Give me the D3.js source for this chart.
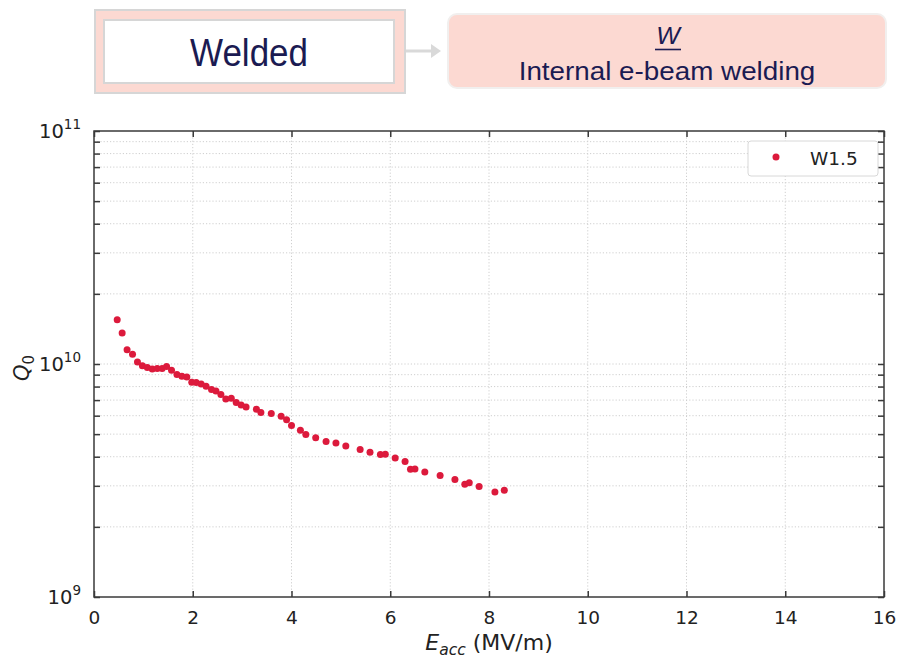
<!DOCTYPE html>
<html>
<head>
<meta charset="utf-8">
<script src="https://cdn.jsdelivr.net/npm/d3@7/dist/d3.min.js"></script>
<style>
  html, body { margin: 0; padding: 0; background: #ffffff; }
  svg { display: block; }
</style>
</head>
<body>
<svg id="chart" width="903" height="659"></svg>
<script>
// Measured Q0 vs accelerating gradient, cavity W1.5
const seriesName = "W1.5";
const eacc = [0.47, 0.57, 0.67, 0.78, 0.88, 0.98, 1.08, 1.18, 1.28, 1.38, 1.47, 1.57, 1.68, 1.78, 1.88,
  1.98, 2.07, 2.17, 2.27, 2.38, 2.47, 2.57, 2.67, 2.78, 2.88, 2.98, 3.08, 3.29, 3.38, 3.59,
  3.79, 3.90, 4.00, 4.18, 4.29, 4.49, 4.70, 4.90, 5.10, 5.39, 5.59, 5.80, 5.90, 6.10, 6.30,
  6.41, 6.50, 6.70, 7.01, 7.31, 7.51, 7.60, 7.80, 8.12, 8.31];
const q0 = [1.55e10, 1.36e10, 1.15e10, 1.10e10, 1.02e10, 0.984e10, 0.965e10, 0.952e10, 0.956e10, 0.956e10,
  0.975e10, 0.940e10, 0.901e10, 0.885e10, 0.880e10, 0.835e10, 0.832e10, 0.821e10, 0.802e10, 0.777e10,
  0.766e10, 0.739e10, 0.708e10, 0.713e10, 0.683e10, 0.667e10, 0.654e10, 0.639e10, 0.619e10, 0.613e10,
  0.597e10, 0.577e10, 0.545e10, 0.519e10, 0.498e10, 0.483e10, 0.465e10, 0.458e10, 0.445e10, 0.430e10,
  0.418e10, 0.409e10, 0.410e10, 0.395e10, 0.382e10, 0.353e10, 0.354e10, 0.344e10, 0.332e10, 0.319e10,
  0.305e10, 0.309e10, 0.298e10, 0.282e10, 0.287e10];
const xTicks = [0, 2, 4, 6, 8, 10, 12, 14, 16];
const yMajorExponents = [9, 10, 11];
const headerLeft = "Welded";
const headerRightTitle = "W";
const headerRightText = "Internal e-beam welding";

const svg = d3.select("#chart");
const navy = "#1b1b52";
const pink = "#fcd9d2";
const red = "#dc1a3c";
const axisFont = "'DejaVu Sans', sans-serif";

// ---------- header boxes ----------
const hdr = svg.append("g").attr("font-family", "'Liberation Sans', Arial, sans-serif");
hdr.append("rect").attr("x", 95).attr("y", 10).attr("width", 310).attr("height", 83)
  .attr("fill", pink).attr("stroke", "#d6d6d6").attr("stroke-width", 2);
hdr.append("rect").attr("x", 104).attr("y", 20).attr("width", 290).attr("height", 63)
  .attr("fill", "#ffffff").attr("stroke", "#d6d6d6").attr("stroke-width", 2);
hdr.append("text").attr("transform", "translate(249,66) scale(1,1.1)").attr("text-anchor", "middle")
  .attr("font-size", 35).attr("fill", navy).text(headerLeft);

// connector arrow
hdr.append("line").attr("x1", 406).attr("y1", 51).attr("x2", 432).attr("y2", 51)
  .attr("stroke", "#d9d9d9").attr("stroke-width", 3);
hdr.append("path").attr("d", "M431,44 L441,51 L431,58 Z").attr("fill", "#d9d9d9");

hdr.append("rect").attr("x", 448).attr("y", 14).attr("width", 438).attr("height", 74)
  .attr("rx", 9).attr("fill", pink).attr("stroke", "#f1efee").attr("stroke-width", 2);
hdr.append("text").attr("transform", "translate(668,44) scale(1,0.95)").attr("text-anchor", "middle")
  .attr("font-size", 25).attr("font-style", "italic").attr("fill", navy).text(headerRightTitle);
hdr.append("line").attr("x1", 655).attr("x2", 681).attr("y1", 49.5).attr("y2", 49.5)
  .attr("stroke", navy).attr("stroke-width", 1.6);
hdr.append("text").attr("transform", "translate(667,80) scale(1,0.92)").attr("text-anchor", "middle")
  .attr("font-size", 27.8).attr("fill", navy).text(headerRightText);

// ---------- plot area ----------
const plotL = 94, plotR = 884, plotT = 131, plotB = 597;
const x = d3.scaleLinear().domain([0, 16]).range([plotL, plotR]);
const y = d3.scaleLog().domain([1e9, 1e11]).range([plotB, plotT]);

const minorVals = [];
for (let e = 9; e < 11; e++) for (let m = 2; m <= 9; m++) minorVals.push(m * Math.pow(10, e));
const majorVals = yMajorExponents.map(e => Math.pow(10, e));

// grid
const grid = svg.append("g").attr("stroke", "#cfcfcf").attr("stroke-width", 1)
  .attr("stroke-dasharray", "1.2,2");
grid.selectAll("line.gx").data(xTicks.slice(1, -1)).join("line")
  .attr("x1", d => x(d)).attr("x2", d => x(d)).attr("y1", plotT).attr("y2", plotB);
grid.selectAll("line.gy").data(minorVals.concat([1e10])).join("line")
  .attr("x1", plotL).attr("x2", plotR).attr("y1", d => y(d)).attr("y2", d => y(d));

// axes with inward ticks
const axisColor = "#3a3a3a";
function styleAxis(g) {
  g.selectAll(".domain").remove();
  g.selectAll(".tick line").attr("stroke", axisColor).attr("stroke-width", 1.5);
  g.selectAll(".tick text").attr("fill", "#222").attr("font-family", axisFont).attr("font-size", 18.5);
}
const xb = svg.append("g").attr("transform", `translate(0,${plotB})`)
  .call(d3.axisBottom(x).tickValues(xTicks).tickSize(-6).tickPadding(14).tickFormat(d3.format("d")));
styleAxis(xb);
const xt = svg.append("g").attr("transform", `translate(0,${plotT})`)
  .call(d3.axisTop(x).tickValues(xTicks).tickSize(-6).tickFormat(""));
styleAxis(xt);

const yl = svg.append("g").attr("transform", `translate(${plotL},0)`)
  .call(d3.axisLeft(y).tickValues(majorVals.concat(minorVals)).tickSize(-6).tickPadding(8).tickFormat(""));
styleAxis(yl);
const yr = svg.append("g").attr("transform", `translate(${plotR},0)`)
  .call(d3.axisRight(y).tickValues(majorVals.concat(minorVals)).tickSize(-6).tickFormat(""));
styleAxis(yr);

// y major labels 10^n
const ylab = svg.append("g").attr("font-family", axisFont).attr("fill", "#222");
yMajorExponents.forEach(e => {
  const t = ylab.append("text").attr("x", plotL - 13).attr("y", y(Math.pow(10, e)) + 7)
    .attr("text-anchor", "end").attr("font-size", 19.5);
  t.append("tspan").text("10");
  t.append("tspan").attr("font-size", 13.5).attr("dy", -9).text(String(e));
});

// frame
svg.append("rect").attr("x", plotL).attr("y", plotT).attr("width", plotR - plotL).attr("height", plotB - plotT)
  .attr("fill", "none").attr("stroke", axisColor).attr("stroke-width", 1.5);

// data points
const pts = eacc.map((v, i) => ({ x: v, q: q0[i] }));
svg.append("g").selectAll("circle").data(pts).join("circle")
  .attr("cx", d => x(d.x)).attr("cy", d => y(d.q)).attr("r", 3.5).attr("fill", red);

// axis titles
const xTitle = svg.append("text").attr("x", (plotL + plotR) / 2).attr("y", 650)
  .attr("text-anchor", "middle").attr("font-family", axisFont).attr("font-size", 22).attr("fill", "#222");
xTitle.append("tspan").attr("font-style", "italic").text("E");
xTitle.append("tspan").attr("font-style", "italic").attr("font-size", 15.5).attr("dy", 5).text("acc");
xTitle.append("tspan").attr("dy", -5).text(" (MV/m)");

const yTitle = svg.append("text").attr("transform", `translate(29,${(plotT + plotB) / 2 + 4}) rotate(-90)`)
  .attr("text-anchor", "middle").attr("font-family", axisFont).attr("font-size", 21).attr("fill", "#222");
yTitle.append("tspan").attr("font-style", "italic").text("Q");
yTitle.append("tspan").attr("font-size", 15).attr("dy", 5).text("0");

// legend
const lg = svg.append("g");
lg.append("rect").attr("x", 748).attr("y", 141).attr("width", 130).attr("height", 35).attr("rx", 3)
  .attr("fill", "#ffffff").attr("stroke", "#d8d8d8").attr("stroke-width", 1);
lg.append("circle").attr("cx", 776).attr("cy", 157).attr("r", 3.5).attr("fill", red);
lg.append("text").attr("x", 810).attr("y", 164.5).attr("font-family", axisFont).attr("font-size", 18.5)
  .attr("fill", "#222").text(seriesName);
</script>
</body>
</html>
